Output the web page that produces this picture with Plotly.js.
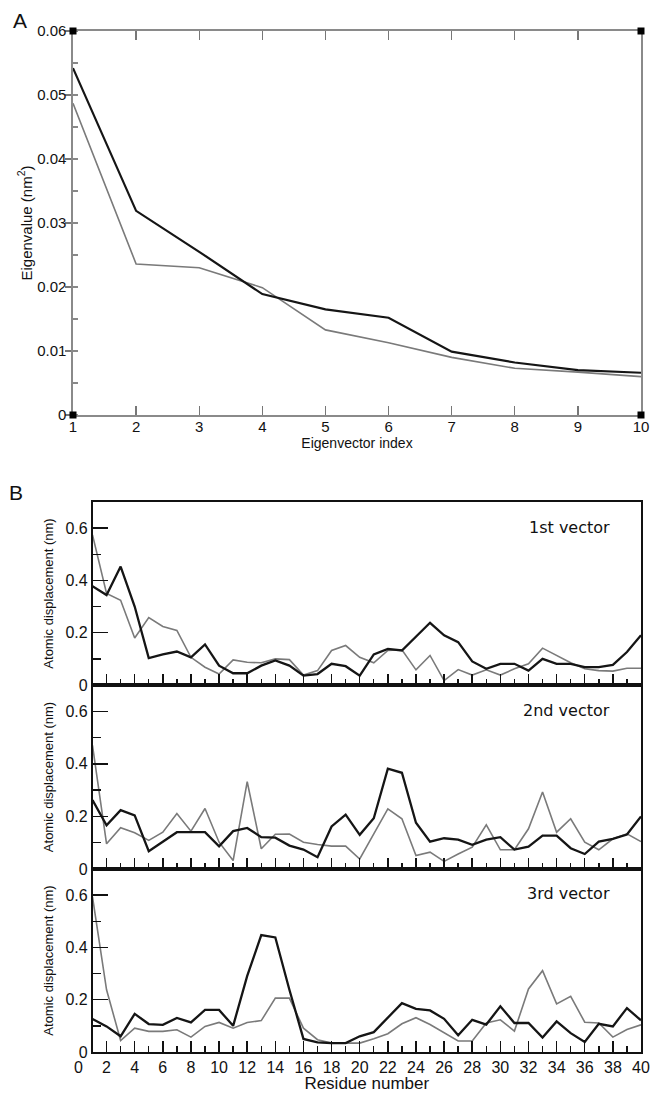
<!DOCTYPE html>
<html>
<head>
<meta charset="utf-8">
<script src="https://cdn.plot.ly/plotly-3.0.1.min.js"></script>
<style>html,body{margin:0;padding:0;background:#fff;}#chart{width:650px;height:1093px;}</style>
</head>
<body>
<div id="chart"></div>
<script>
// ---------- Panel A data ----------
const eigIndex = [1,2,3,4,5,6,7,8,9,10];
const eigBlack = [0.0542,0.0319,0.0255,0.0189,0.0165,0.0152,0.0099,0.0082,0.0070,0.0066];
const eigGray  = [0.0487,0.0236,0.0230,0.0199,0.0133,0.0113,0.0090,0.0073,0.0067,0.0060];

// ---------- Panel B data ----------
const residues = Array.from({length:40},(_,i)=>i+1);
const xTickLabels = ['0','2','4','6','8','10','12','14','16','18','20','22','24','26','28','30','32','34','36','38','40'];
const vectorNames = ['1st vector','2nd vector','3rd vector'];

const vec1Black = [0.378,0.344,0.453,0.300,0.103,0.117,0.128,0.106,0.155,0.074,
                   0.045,0.045,0.074,0.094,0.074,0.036,0.042,0.081,0.072,0.036,
                   0.117,0.138,0.132,0.186,0.238,0.190,0.164,0.090,0.062,0.081,
                   0.081,0.055,0.100,0.081,0.081,0.068,0.068,0.077,0.126,0.190];
const vec1Gray  = [0.574,0.350,0.324,0.180,0.258,0.224,0.209,0.106,0.068,0.042,
                   0.096,0.087,0.085,0.100,0.097,0.038,0.055,0.132,0.151,0.106,
                   0.085,0.132,0.135,0.058,0.113,0.017,0.059,0.038,0.058,0.038,
                   0.062,0.081,0.141,0.113,0.085,0.062,0.055,0.053,0.064,0.064];
const vec2Black = [0.262,0.166,0.224,0.204,0.068,0.105,0.140,0.140,0.140,0.086,
                   0.144,0.156,0.121,0.119,0.089,0.074,0.045,0.162,0.207,0.130,
                   0.193,0.382,0.366,0.176,0.104,0.117,0.112,0.092,0.112,0.121,
                   0.074,0.085,0.127,0.127,0.079,0.057,0.104,0.115,0.131,0.200];
const vec2Gray  = [0.470,0.096,0.157,0.138,0.109,0.140,0.211,0.144,0.230,0.102,
                   0.032,0.332,0.077,0.132,0.133,0.102,0.093,0.087,0.087,0.038,
                   0.134,0.229,0.191,0.051,0.064,0.029,0.057,0.083,0.168,0.073,
                   0.073,0.153,0.293,0.140,0.191,0.102,0.073,0.115,0.134,0.104];
const vec3Black = [0.126,0.098,0.060,0.146,0.107,0.104,0.130,0.113,0.161,0.161,
                   0.100,0.291,0.447,0.438,0.238,0.050,0.037,0.034,0.034,0.060,
                   0.076,0.133,0.187,0.165,0.159,0.127,0.064,0.123,0.105,0.175,
                   0.111,0.111,0.055,0.117,0.072,0.038,0.108,0.098,0.168,0.121];
const vec3Gray  = [0.593,0.238,0.044,0.091,0.079,0.079,0.085,0.057,0.098,0.113,
                   0.091,0.113,0.120,0.206,0.206,0.091,0.047,0.034,0.034,0.034,
                   0.051,0.070,0.108,0.131,0.105,0.072,0.042,0.042,0.111,0.123,
                   0.080,0.241,0.311,0.184,0.213,0.114,0.111,0.057,0.086,0.104];

// ---------- layout helpers ----------
const W = 650, H = 1093;
const px = v => v / W;
const py = v => 1 - v / H;
const FONT = 'Liberation Sans, Arial, Helvetica, sans-serif';
const BLACK = '#151515', GRAY = '#7a7a7a';

const traces = [
  {x: eigIndex, y: eigGray,  type:'scatter', mode:'lines', xaxis:'x', yaxis:'y', line:{color:GRAY, width:1.6}, hoverinfo:'skip'},
  {x: eigIndex, y: eigBlack, type:'scatter', mode:'lines', xaxis:'x', yaxis:'y', line:{color:BLACK, width:2.2}, hoverinfo:'skip'}
];
const vecData = [[vec1Black,vec1Gray],[vec2Black,vec2Gray],[vec3Black,vec3Gray]];

const layout = {
  width: W, height: H,
  margin: {l:0, r:0, t:0, b:0},
  paper_bgcolor:'#fff', plot_bgcolor:'#fff',
  showlegend:false,
  font:{family:FONT, color:'#111'},
  xaxis: {
    domain:[px(73), px(641)], anchor:'y', range:[1,10],
    tickmode:'linear', tick0:1, dtick:1,
    ticks:'inside', ticklen:9, tickwidth:1.3, tickcolor:'#777',
    showline:true, linecolor:'#8a8a8a', linewidth:1.6, mirror:'ticks',
    showgrid:false, zeroline:false, ticklabelstandoff:-3,
    tickfont:{size:15, family:FONT, color:'#111'},
    title:{text:'Eigenvector index', font:{size:14, family:FONT, color:'#111'}, standoff:0}
  },
  yaxis: {
    domain:[py(415), py(31)], anchor:'x', range:[0,0.06],
    tickmode:'linear', tick0:0, dtick:0.01,
    ticks:'outside', ticklen:6, tickwidth:1.3, tickcolor:'#777',
    minor:{dtick:0.005, tick0:0, ticks:'inside', ticklen:5, tickwidth:1.2, tickcolor:'#888', showgrid:false},
    showline:true, linecolor:'#8a8a8a', linewidth:1.6, mirror:true,
    showgrid:false, zeroline:false, ticklabelstandoff:-4,
    tickfont:{size:15, family:FONT, color:'#111'},
    title:{text:'Eigenvalue (nm<sup>2</sup>)', font:{size:15, family:FONT, color:'#111'}, standoff:1}
  },
  yaxis2: {
    overlaying:'y', side:'right', anchor:'x', range:[0,0.06],
    tickmode:'linear', tick0:0, dtick:0.01,
    ticks:'inside', ticklen:8, tickwidth:1.3, tickcolor:'#777',
    minor:{dtick:0.005, tick0:0, ticks:'inside', ticklen:5, tickwidth:1.2, tickcolor:'#888', showgrid:false},
    showticklabels:false, showline:false, showgrid:false, zeroline:false
  },
  annotations: [
    {text:'A', xref:'paper', yref:'paper', x:px(20), y:py(20), xanchor:'center', yanchor:'middle', showarrow:false, font:{size:21, family:FONT, color:'#111'}},
    {text:'B', xref:'paper', yref:'paper', x:px(16), y:py(493), xanchor:'center', yanchor:'middle', showarrow:false, font:{size:21, family:FONT, color:'#111'}},
    {text:xTickLabels[0], xref:'paper', yref:'paper', x:px(78), y:py(1067), xanchor:'center', yanchor:'middle', showarrow:false, font:{size:16, family:FONT, color:'#111'}}
  ],
  shapes: []
};

// corner squares of panel A
[[0,0],[1,0],[0,1],[1,1]].forEach(([cx,cy])=>{
  layout.shapes.push({type:'rect', xref:'x domain', yref:'y domain', xsizemode:'pixel', ysizemode:'pixel',
    xanchor:cx, yanchor:cy, x0:-3.5, x1:3.5, y0:-3.5, y1:3.5, fillcolor:'#000', line:{width:0}});
});

// Panel B subplots
const bounds = [[502,685],[685,869],[869,1052]];
const labelY = [527, 710, 893];
bounds.forEach((b, i) => {
  const xa = 'x' + (i+2);
  const yl = 'y' + (2*i+3);
  const xKey = 'xaxis' + (i+2);
  const ylKey = 'yaxis' + (2*i+3);
  const yrKey = 'yaxis' + (2*i+4);
  const last = (i === 2);
  layout[xKey] = {
    domain:[px(92.5), px(641)], anchor:yl, range:[1,40],
    tickmode:'array', tickvals: xTickLabels.map(Number), ticktext: xTickLabels,
    ticks:'inside', ticklen:11, tickwidth:1.5, tickcolor:'#111',
    minor:{tickmode:'linear', tick0:1, dtick:1, ticks:'inside', ticklen:6, tickwidth:1.4, tickcolor:'#111', showgrid:false},
    showline:true, linecolor:'#111', linewidth:1.6, mirror:true,
    showgrid:false, zeroline:false,
    showticklabels:last,
    tickfont:{size:16, family:FONT, color:'#111'}
  };
  if (last) {
    layout[xKey].title = {text:'Residue number', font:{size:17, family:FONT, color:'#111'}, standoff:1};
  }
  layout[ylKey] = {
    domain:[py(b[1]), py(b[0])], anchor:xa, range:[0,0.7],
    tickmode:'array', tickvals:[0,0.2,0.4,0.6], ticktext:['0','0.2','0.4','0.6'],
    ticks:'inside', ticklen:15, tickwidth:1.5, tickcolor:'#111',
    minor:{tickmode:'array', tickvals:[0.1,0.3,0.5], ticks:'inside', ticklen:8, tickwidth:1.4, tickcolor:'#111', showgrid:false},
    showline:true, linecolor:'#111', linewidth:1.6, mirror:true,
    showgrid:false, zeroline:false,
    tickfont:{size:16, family:FONT, color:'#111'},
    title:{text:'Atomic displacement (nm)', font:{size:13, family:FONT, color:'#111'}, standoff:9}
  };
  layout[yrKey] = {
    overlaying:yl, side:'right', anchor:xa, range:[0,0.7],
    tickmode:'array', tickvals:[0.2,0.4,0.6],
    ticks:'inside', ticklen:15, tickwidth:1.5, tickcolor:'#111',
    minor:{tickmode:'array', tickvals:[0.1,0.3,0.5], ticks:'inside', ticklen:8, tickwidth:1.4, tickcolor:'#111', showgrid:false},
    showticklabels:false, showline:false, showgrid:false, zeroline:false
  };
  traces.push({x:residues, y:vecData[i][1], type:'scatter', mode:'lines', xaxis:xa, yaxis:yl, line:{color:GRAY, width:1.6}, hoverinfo:'skip'});
  traces.push({x:residues, y:vecData[i][0], type:'scatter', mode:'lines', xaxis:xa, yaxis:yl, line:{color:BLACK, width:2.3}, hoverinfo:'skip'});
  layout.annotations.push({text:vectorNames[i], xref:'paper', yref:'paper', x:px(612), y:py(labelY[i]),
    xanchor:'right', yanchor:'middle', showarrow:false, font:{size:16, family:'DejaVu Sans, Verdana, sans-serif', color:'#111'}});
});

Plotly.newPlot('chart', traces, layout, {staticPlot:true, displayModeBar:false});
</script>
</body>
</html>
